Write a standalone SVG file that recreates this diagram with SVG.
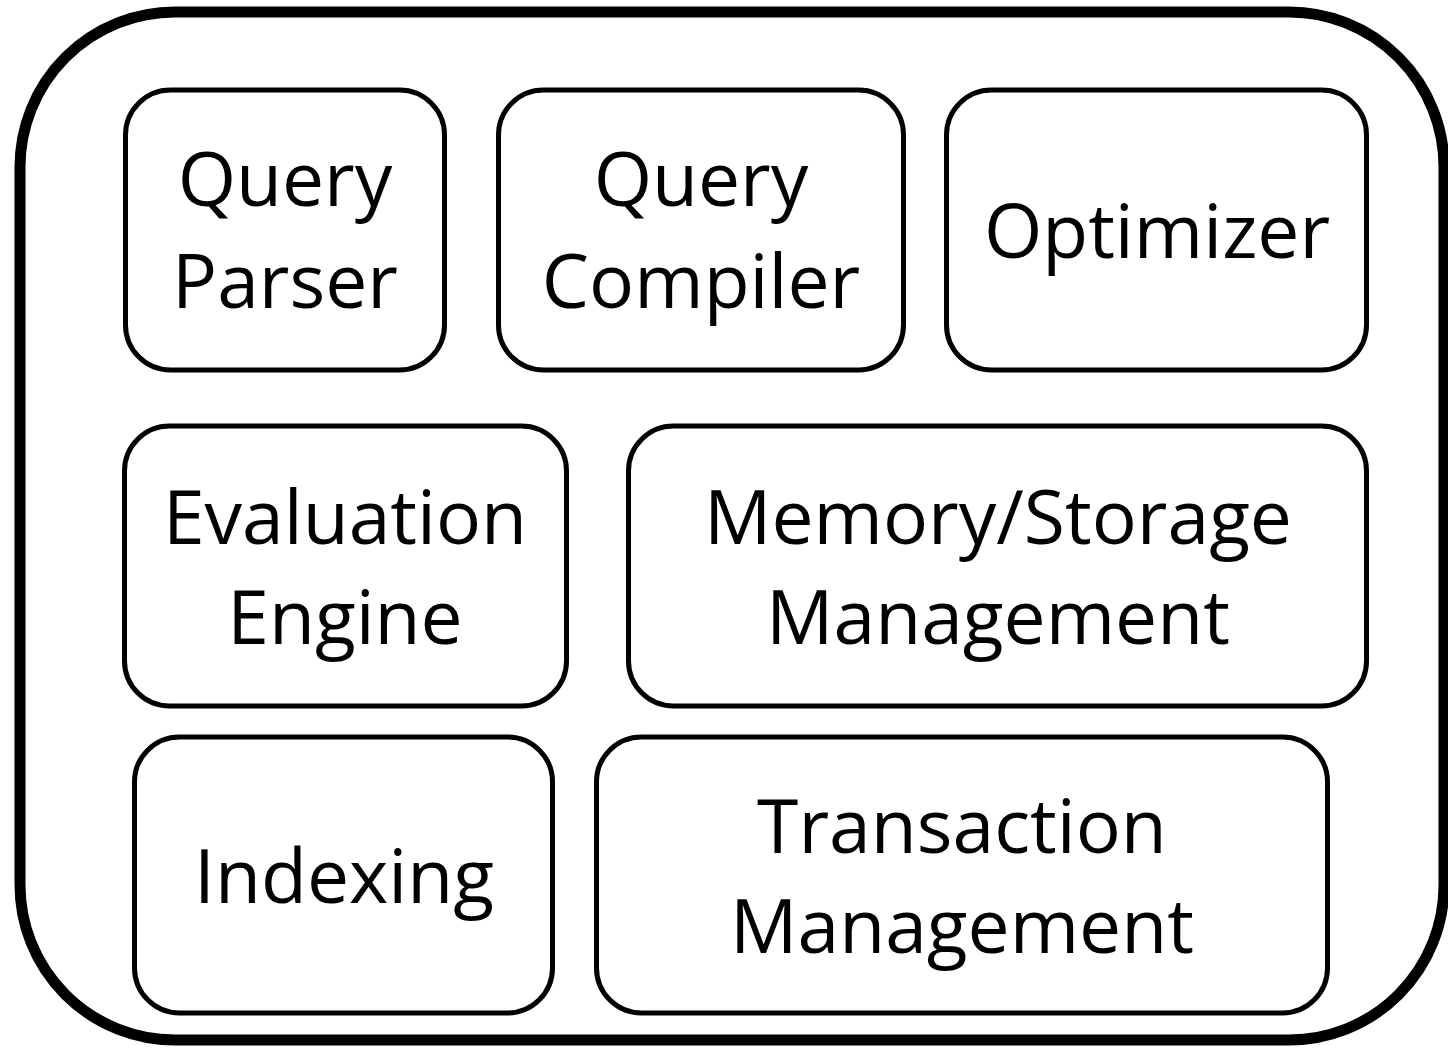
<svg xmlns="http://www.w3.org/2000/svg" width="1448" height="1049" viewBox="0 0 1448 1049">
<style>
.box{fill:#fff;stroke:#000;stroke-width:5}
.outer{fill:#fff;stroke:#000;stroke-width:11}
text{font-family:"Open Sans","Noto Sans",sans-serif;font-size:75px;fill:#000;text-anchor:middle}
</style>
<rect width="1448" height="1049" fill="#fff"/>
<g id="system"><rect class="outer" x="20" y="12" width="1424" height="1028" rx="155" ry="155"/></g>
<g id="query-parser"><rect class="box" x="125.5" y="90" width="319" height="280" rx="45"/><text x="285" y="206">Query</text><text x="285" y="308">Parser</text></g>
<g id="query-compiler"><rect class="box" x="498.5" y="90" width="405" height="280" rx="45"/><text x="701" y="206">Query</text><text x="701" y="308">Compiler</text></g>
<g id="optimizer"><rect class="box" x="946.5" y="90" width="420" height="280" rx="45"/><text x="1157" y="258">Optimizer</text></g>
<g id="evaluation-engine"><rect class="box" x="124.5" y="426" width="442" height="280" rx="45"/><text x="345" y="544">Evaluation</text><text x="345" y="644">Engine</text></g>
<g id="memory-storage"><rect class="box" x="628.5" y="426" width="738" height="280" rx="45"/><text x="998" y="544">Memory/Storage</text><text x="998" y="644">Management</text></g>
<g id="indexing"><rect class="box" x="134.5" y="737" width="418" height="276" rx="45"/><text x="344" y="903">Indexing</text></g>
<g id="transaction"><rect class="box" x="596.5" y="737" width="731" height="276" rx="45"/><text x="962" y="853">Transaction</text><text x="962" y="953">Management</text></g>
<g id="connectors"></g>
</svg>
